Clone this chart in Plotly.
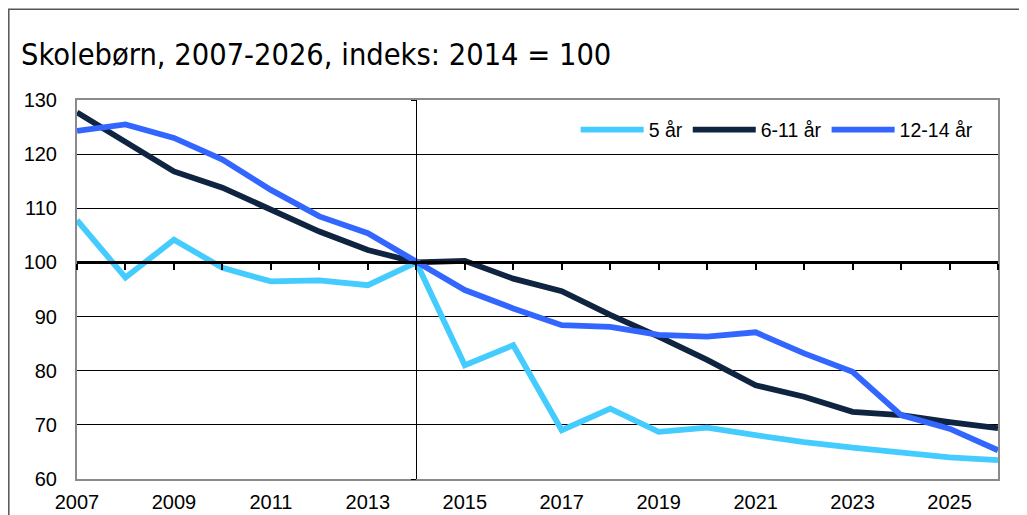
import plotly.graph_objects as go

years = list(range(2007, 2027))
age5 = [107.8, 97.2, 104.2, 99.0, 96.5, 96.7, 95.8, 100.0, 81.0, 84.7, 69.0, 73.0,
        68.7, 69.5, 68.1, 66.8, 65.8, 64.8, 64.0, 63.5]
age6_11 = [127.7, 122.1, 116.8, 113.8, 109.7, 105.7, 102.3, 100.0, 100.3, 97.0, 94.7, 90.3,
           86.3, 82.0, 77.3, 75.2, 72.4, 71.8, 70.5, 69.4]
age12_14 = [124.3, 125.5, 123.0, 119.0, 113.4, 108.5, 105.4, 100.0, 94.9, 91.5, 88.4, 88.1,
            86.6, 86.3, 87.1, 83.2, 79.8, 71.8, 69.3, 65.3]
series_names = ["5 år", "6-11 år", "12-14 år"]
colors = ["#45CCFF", "#0F2440", "#3366FF"]
xtick_vals = list(range(2007, 2027, 2))
ytick_vals = list(range(60, 131, 10))

fig = go.Figure()
for name, vals, col in zip(series_names, [age5, age6_11, age12_14], colors):
    fig.add_trace(go.Scatter(x=years, y=vals, mode="lines", name=name,
                             line=dict(color=col, width=5.8)))

# page body adds an 8px offset; figure coordinates below compensate for it
W, H = 1019, 507
L, R, T, B = 69, 29, 92, 36
pw, ph = W - L - R, H - T - B

fig.update_layout(
    width=W, height=H,
    margin=dict(l=L, r=R, t=T, b=B, autoexpand=False),
    paper_bgcolor="white", plot_bgcolor="white",
    font=dict(family="Liberation Sans, Arial, sans-serif", size=20, color="black"),
    title=dict(text="Skolebørn, 2007-2026, indeks: 2014 = 100",
               font=dict(family="DejaVu Sans Condensed, DejaVu Sans, sans-serif", size=30.5, color="black"),
               xref="container", yref="container", x=13 / W, xanchor="left",
               y=1 - 46 / H, yanchor="middle", pad=dict(l=0, r=0, t=0, b=0)),
    showlegend=True,
    legend=dict(orientation="h", x=0.979, xanchor="right", y=0.921, yanchor="middle",
                bgcolor="rgba(0,0,0,0)", font=dict(size=19.5), itemwidth=63,
                traceorder="normal"),
    xaxis=dict(range=[2007, 2026], tickvals=xtick_vals, showgrid=False, zeroline=False,
               showline=True, linecolor="#8A8A8A", linewidth=2, mirror=True, ticks="",
               ticklabelstandoff=4, automargin=False),
    yaxis=dict(range=[60, 130], tickvals=ytick_vals, showgrid=True, gridcolor="black",
               gridwidth=1, zeroline=False, showline=True, linecolor="#8A8A8A",
               linewidth=2, mirror=True, ticks="", ticklabelstandoff=14, automargin=False),
    xaxis2=dict(range=[2007, 2026], overlaying="x", anchor="free",
                position=(100 - 60) / 70, showline=True, linecolor="black", linewidth=2.5,
                ticks="outside", ticklen=6, tickwidth=2, tickcolor="black", dtick=1, tick0=2007,
                showticklabels=False, showgrid=False, zeroline=False, automargin=False),
    yaxis2=dict(range=[60, 130], overlaying="y", anchor="free",
                position=(2014 - 2007) / 19, showline=True, linecolor="black", linewidth=1,
                ticks="outside", ticklen=5, tickwidth=1, tickcolor="black", dtick=10,
                showticklabels=False, showgrid=False, zeroline=False, side="left",
                automargin=False),
)

# invisible traces to activate the crossing axes
fig.add_trace(go.Scatter(x=[2007, 2026], y=[100, 100], xaxis="x2", yaxis="y", mode="lines",
                         line=dict(width=0), showlegend=False, hoverinfo="skip"))
fig.add_trace(go.Scatter(x=[2014, 2014], y=[60, 130], xaxis="x", yaxis="y2", mode="lines",
                         line=dict(width=0), showlegend=False, hoverinfo="skip"))

# outer chart frame (top and left edges visible)
fig.add_shape(type="rect", xref="paper", yref="paper",
              x0=(0.8 - L) / pw, x1=(W + 20 - L) / pw, y0=-(B + 20) / ph, y1=(H - B - 1.2) / ph,
              line=dict(color="#555555", width=1.5), fillcolor="rgba(0,0,0,0)", layer="below")

fig.write_html("out.html")
